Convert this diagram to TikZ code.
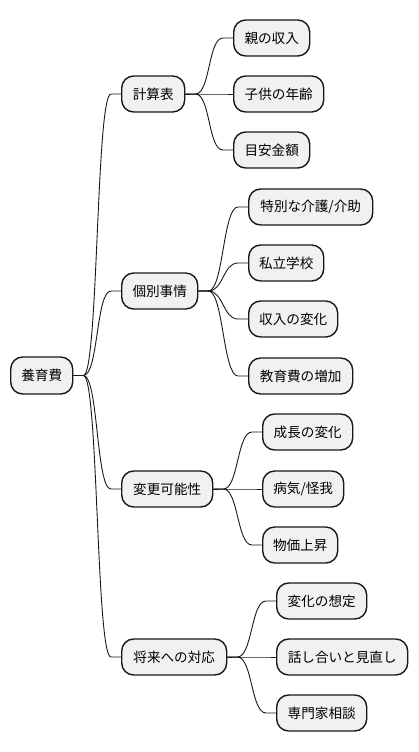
\documentclass[tikz,border=0pt]{standalone}
\usepackage{fontspec}
\setmainfont{Noto Sans CJK JP}
\usetikzlibrary{calc}
\definecolor{boxfill}{HTML}{F1F1F1}
\definecolor{boxline}{HTML}{181818}
\tikzset{
  mmbox/.style={draw=boxline, line width=1.4pt, fill=boxfill, rounded corners=12pt,
    anchor=west, minimum height=36pt, inner sep=0pt, align=center,
    font=\fontsize{13.6}{16}\selectfont},
  mmlink/.style={draw=boxline, line width=0.9pt}
}
\newcommand\mmlinkto[2]{\draw[mmlink] (#1.east) -- ++(10,0) .. controls +(15,0) and +(-15,0) .. ($(#2.west)+(-10,0)$) -- (#2.west);}
\begin{document}
\begin{tikzpicture}[x=1pt,y=-1pt]
\useasboundingbox (0,0) rectangle (418,752);
% root
\node[mmbox, minimum width=62pt, minimum height=37pt] (root) at (10,375.5) {養育費};
% level 1
\node[mmbox, minimum width=63pt] (a) at (121,94) {計算表};
\node[mmbox, minimum width=76pt] (b) at (121,291) {個別事情};
\node[mmbox, minimum width=91pt] (c) at (121,489) {変更可能性};
\node[mmbox, minimum width=105pt] (d) at (121,657) {将来への対応};
% level 2
\node[mmbox, minimum width=76pt] (a1) at (233,38) {親の収入};
\node[mmbox, minimum width=90pt] (a2) at (233,94) {子供の年齢};
\node[mmbox, minimum width=76pt] (a3) at (233,150) {目安金額};
\node[mmbox, minimum width=124pt] (b1) at (248,207) {特別な介護/介助};
\node[mmbox, minimum width=75pt] (b2) at (248,263) {私立学校};
\node[mmbox, minimum width=89pt] (b3) at (248,319) {収入の変化};
\node[mmbox, minimum width=104pt] (b4) at (248,376) {教育費の増加};
\node[mmbox, minimum width=90pt] (c1) at (262,432) {成長の変化};
\node[mmbox, minimum width=81pt] (c2) at (262,489) {病気/怪我};
\node[mmbox, minimum width=75pt] (c3) at (262,545) {物価上昇};
\node[mmbox, minimum width=90pt] (d1) at (276,601) {変化の想定};
\node[mmbox, minimum width=131pt] (d2) at (276,657) {話し合いと見直し};
\node[mmbox, minimum width=90pt] (d3) at (276,713) {専門家相談};
% links
\mmlinkto{root}{a}\mmlinkto{root}{b}\mmlinkto{root}{c}\mmlinkto{root}{d}
\mmlinkto{a}{a1}\mmlinkto{a}{a2}\mmlinkto{a}{a3}
\mmlinkto{b}{b1}\mmlinkto{b}{b2}\mmlinkto{b}{b3}\mmlinkto{b}{b4}
\mmlinkto{c}{c1}\mmlinkto{c}{c2}\mmlinkto{c}{c3}
\mmlinkto{d}{d1}\mmlinkto{d}{d2}\mmlinkto{d}{d3}
\end{tikzpicture}
\end{document}
